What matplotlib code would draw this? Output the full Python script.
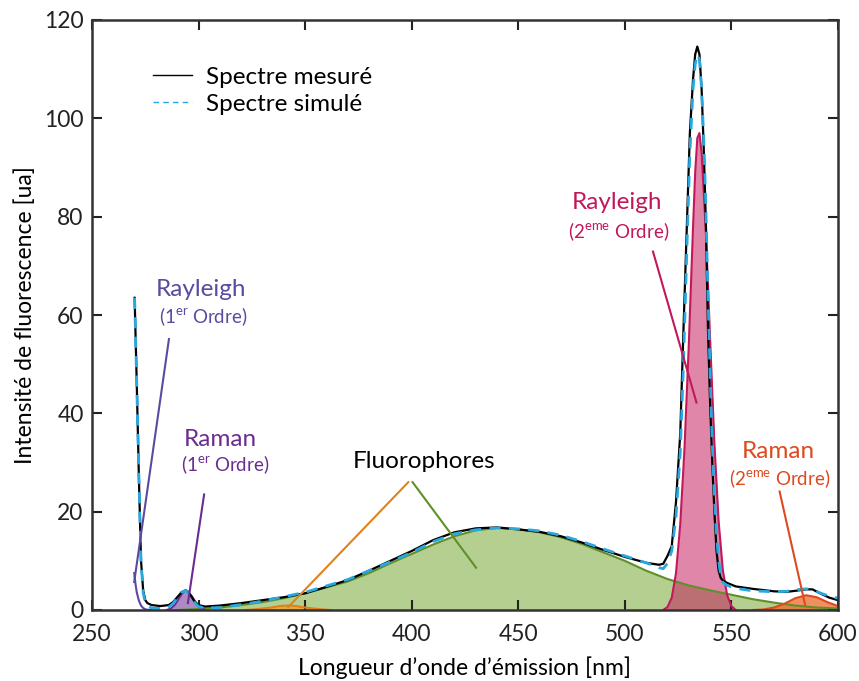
import numpy as np
import matplotlib
matplotlib.use("Agg")
import matplotlib.pyplot as plt
from matplotlib.lines import Line2D

plt.rcParams['font.family'] = ['Lato', 'DejaVu Sans']
plt.rcParams['mathtext.fontset'] = 'custom'
plt.rcParams['mathtext.rm'] = 'Lato'

wl = [270, 271, 272, 273, 274, 275, 276, 278, 282, 286, 288, 290, 292, 294, 296, 298,
      300, 303, 310, 320, 330, 340, 350, 360, 370, 380, 390, 400, 410, 420, 430, 440,
      450, 460, 470, 480, 490, 500, 510, 516, 518, 520, 522, 524, 526, 527.5, 529, 530.5,
      532, 533, 534, 535, 536, 537, 538, 539, 540, 541, 542, 543, 544, 545, 546, 548,
      552, 560, 570, 576, 580, 585, 588, 592, 596, 600]
mesure = [63.5, 46, 27, 10, 4.0, 2.0, 1.4, 1.0, 0.8, 1.0, 1.6, 2.6, 3.6, 4.0, 3.2, 1.8,
          1.0, 0.7, 0.9, 1.4, 2.0, 2.6, 3.4, 4.7, 6.1, 8.0, 10.0, 12.0, 14.2, 15.8, 16.6, 16.8,
          16.4, 15.9, 15.0, 13.7, 12.2, 10.8, 9.6, 9.2, 9.4, 11, 13, 22, 36, 57, 77, 97,
          108, 113, 114.6, 113, 106, 94, 79, 57, 42, 30, 20, 12, 8.0, 6.5, 6.0, 5.5,
          4.8, 4.3, 3.8, 3.7, 3.9, 4.2, 4.2, 3.3, 2.5, 2.0]
simule = [63.5, 46, 27, 10, 3.5, 1.5, 0.8, 0.4, 0.3, 0.6, 1.3, 2.5, 3.6, 4.0, 3.1, 1.6,
          0.7, 0.4, 0.5, 1.1, 1.8, 2.7, 3.6, 4.9, 6.2, 8.0, 9.8, 11.7, 13.9, 15.5, 16.3, 16.7,
          16.5, 16.1, 15.2, 13.9, 12.4, 11.0, 9.6, 8.6, 8.4, 9.5, 12, 19, 32, 50, 72, 93,
          106, 111, 113, 112, 106, 96, 82, 64, 48, 34, 23, 15, 10, 7.0, 5.6, 5.0,
          4.4, 3.9, 3.7, 3.8, 4.1, 4.3, 4.2, 3.4, 2.8, 2.4]

# components
ray1_wl = [269.8, 270.5, 271, 272, 273, 274, 275, 276, 278]
ray1 = [7.5, 5.0, 3.6, 1.9, 0.9, 0.4, 0.15, 0.05, 0]

ram1_wl = [285, 287, 289, 291, 293, 294, 295, 297, 299, 301, 303]
ram1 = [0, 0.3, 1.1, 2.5, 3.8, 4.0, 3.8, 2.7, 1.3, 0.4, 0]

fluo1_wl = [322, 328, 334, 338, 342, 346, 350, 356, 362]
fluo1 = [0, 0.2, 0.5, 0.8, 0.9, 0.8, 0.5, 0.2, 0]

fluo2_wl = [290, 300, 310, 320, 330, 340, 350, 360, 370, 380, 390, 400, 410, 420, 430,
            440, 450, 460, 470, 480, 490, 500, 510, 520, 530, 540, 550, 560, 570, 580,
            590, 600]
fluo2 = [0, 0.2, 0.5, 1.0, 1.6, 2.4, 3.4, 4.6, 5.8, 7.5, 9.5, 11.4, 13.3, 15.0, 16.2,
         16.7, 16.4, 15.8, 14.8, 13.4, 11.7, 10.0, 8.0, 6.3, 5.0, 4.0, 3.1, 2.2, 1.5, 0.9,
         0.5, 0.3]

ray2_wl = [518, 520, 522, 524, 526, 528, 530, 532, 533, 534, 535, 536, 538, 540, 542,
           544, 546, 548, 550, 552]
ray2 = [0, 0.6, 2.5, 7.5, 17.5, 33, 54, 78, 89, 96, 97, 93, 77, 55, 34, 18, 8, 3, 0.8, 0]

ram2_wl = [560, 565, 570, 575, 580, 585, 590, 595, 600]
ram2 = [0, 0.1, 0.5, 1.3, 2.4, 3.0, 2.6, 1.6, 0.8]

xticks = [250, 300, 350, 400, 450, 500, 550, 600]
yticks = [0, 20, 40, 60, 80, 100, 120]

c_ray1 = '#5b4a9f'
c_ram1 = '#6a2c91'
c_fluo1 = '#e0821a'
c_fluo2 = '#5f8f2a'
c_ray2 = '#c2185b'
c_ram2 = '#dc4a1e'
c_sim = '#29a8e0'

fig = plt.figure(figsize=(8.59, 6.81), dpi=100)
ax = fig.add_axes([92/859, 1-610/681, 746/859, 590/681])

# filled components
ax.fill_between(fluo2_wl, fluo2, color='#6aa121', alpha=0.5, lw=0)
ax.plot(fluo2_wl, fluo2, color=c_fluo2, lw=1.5)
ax.fill_between(fluo1_wl, fluo1, color='#f0a030', alpha=0.8, lw=0)
ax.plot(fluo1_wl, fluo1, color=c_fluo1, lw=1.5)
ax.fill_between(ray2_wl, ray2, color=c_ray2, alpha=0.52, lw=0)
ax.plot(ray2_wl, ray2, color=c_ray2, lw=1.5)
ax.fill_between(ram1_wl, ram1, color=c_ram1, alpha=0.55, lw=0)
ax.plot(ram1_wl, ram1, color=c_ram1, lw=1.5)
ax.fill_between(ram2_wl, ram2, color='#ec6a2a', alpha=0.75, lw=0)
ax.plot(ram2_wl, ram2, color=c_ram2, lw=1.5)
ax.plot(ray1_wl, ray1, color=c_ray1, lw=1.5)

# spectra
ax.plot(wl, mesure, color='black', lw=1.6)
ax.plot(wl, simule, color=c_sim, lw=2, linestyle=(0, (4, 3)))

# annotations
big, small = 17.5, 13.5
ax.plot([286.1, 269.8], [55.1, 5.7], color=c_ray1, lw=1.5)
ax.text(301, 65.1, 'Rayleigh', color=c_ray1, fontsize=big, ha='center', va='center')
ax.text(302, 59.6, '(1$^{\\rm er}$ Ordre)', color=c_ray1, fontsize=small, ha='center', va='center')

ax.plot([302.6, 295.0], [23.5, 1.4], color=c_ram1, lw=1.5)
ax.text(310, 34.7, 'Raman', color=c_ram1, fontsize=big, ha='center', va='center')
ax.text(312.4, 29.5, '(1$^{\\rm er}$ Ordre)', color=c_ram1, fontsize=small, ha='center', va='center')

ax.plot([398.4, 342.1], [26, 0.6], color=c_fluo1, lw=1.5)
ax.plot([400.4, 430.2], [26, 8.6], color=c_fluo2, lw=1.5)
ax.text(405.8, 30.2, 'Fluorophores', color='black', fontsize=big, ha='center', va='center')

ax.plot([513.2, 533.6], [72.9, 42.2], color=c_ray2, lw=1.5)
ax.text(496.4, 82.9, 'Rayleigh', color=c_ray2, fontsize=big, ha='center', va='center')
ax.text(497.3, 77.0, '(2$^{\\rm eme}$ Ordre)', color=c_ray2, fontsize=small, ha='center', va='center')

ax.plot([572.6, 584.6], [24.1, 1.0], color=c_ram2, lw=1.5)
ax.text(571.9, 32.2, 'Raman', color=c_ram2, fontsize=big, ha='center', va='center')
ax.text(572.8, 26.7, '(2$^{\\rm eme}$ Ordre)', color=c_ram2, fontsize=small, ha='center', va='center')

ax.set_xlim(250, 600)
ax.set_ylim(0, 120)
ax.set_xticks(xticks)
ax.set_yticks(yticks)
ax.tick_params(direction='in', length=7, width=1.5, top=True, right=True,
               labelsize=16.5, colors='#222222')
ax.tick_params(axis='x', pad=10)
ax.tick_params(axis='y', pad=6)
for s in ax.spines.values():
    s.set_linewidth(1.8)
    s.set_color('#333333')

ax.set_xlabel("Longueur d\u2019onde d\u2019\u00e9mission [nm]", fontsize=16.5, labelpad=8)
ax.set_ylabel("Intensit\u00e9 de fluorescence [ua]", fontsize=16.5, labelpad=6)

handles = [Line2D([], [], color='black', lw=1.0),
           Line2D([], [], color=c_sim, lw=1.0, linestyle=(0, (4, 3)))]
ax.legend(handles, ['Spectre mesur\u00e9', 'Spectre simul\u00e9'], loc='upper left',
          bbox_to_anchor=(0.053, 0.958), frameon=False, fontsize=17.5,
          handlelength=1.6, handletextpad=0.55, labelspacing=0.25)

fig.savefig('out.png', dpi=100)
